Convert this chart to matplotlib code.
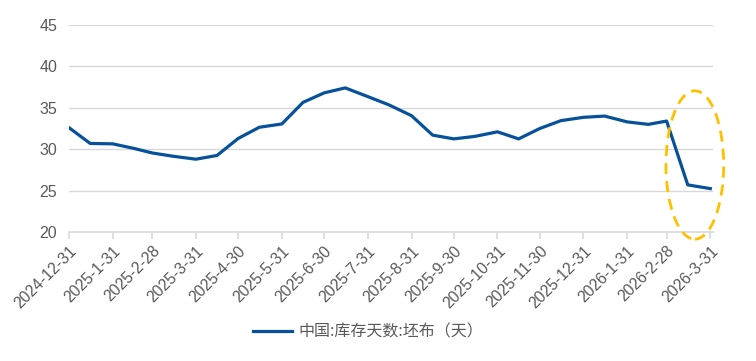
import numpy as np
import pandas as pd
import matplotlib.pyplot as plt
import matplotlib.dates as mdates
from matplotlib.patches import Ellipse

plt.rcParams['font.family'] = ['Liberation Sans', 'Noto Sans CJK SC', 'DejaVu Sans']

dates = pd.to_datetime([
    "2024-12-31", "2025-01-15", "2025-01-31", "2025-02-15", "2025-02-28",
    "2025-03-15", "2025-03-31", "2025-04-15", "2025-04-30", "2025-05-15",
    "2025-05-31", "2025-06-15", "2025-06-30", "2025-07-15", "2025-07-31",
    "2025-08-15", "2025-08-31", "2025-09-15", "2025-09-30", "2025-10-15",
    "2025-10-31", "2025-11-15", "2025-11-30", "2025-12-15", "2025-12-31",
    "2026-01-15", "2026-01-31", "2026-02-15", "2026-02-28", "2026-03-15",
    "2026-03-31",
])
days = [
    32.6, 30.7, 30.65, 30.1, 29.55,
    29.15, 28.8, 29.25, 31.3, 32.65,
    33.05, 35.65, 36.8, 37.4, 36.35,
    35.35, 34.05, 31.7, 31.25, 31.55,
    32.1, 31.25, 32.5, 33.45, 33.85,
    34.0, 33.3, 33.0, 33.4, 25.7,
    25.25,
]
tick_dates = pd.to_datetime([
    "2024-12-31", "2025-01-31", "2025-02-28", "2025-03-31", "2025-04-30",
    "2025-05-31", "2025-06-30", "2025-07-31", "2025-08-31", "2025-09-30",
    "2025-10-31", "2025-11-30", "2025-12-31", "2026-01-31", "2026-02-28",
    "2026-03-31",
])
tick_labels = [f"{d.year}-{d.month}-{d.day}" for d in tick_dates]
series_name = "中国:库存天数:坯布（天）"

fig = plt.figure(figsize=(7.56, 3.61), dpi=100)
ax = fig.add_axes([0.0913, 0.357, 0.852, 0.574])

ax.plot(dates, days, color="#06519A", lw=2.3, label=series_name, zorder=3)

ax.set_ylim(20, 45)
ax.set_yticks(np.arange(20, 46, 5))
ax.set_xlim(mdates.date2num(tick_dates[0]), mdates.date2num(tick_dates[-1]) + 2)
ax.set_xticks(tick_dates)
ax.set_xticklabels(tick_labels, rotation=45, ha="right", rotation_mode="anchor")

ax.grid(axis="y", color="#D9D9D9", lw=1)
ax.set_axisbelow(True)
for s in ["top", "right", "left"]:
    ax.spines[s].set_visible(False)
ax.spines["bottom"].set_color("#D9D9D9")
ax.spines["bottom"].set_linewidth(1.2)
ax.tick_params(axis="x", colors="#D9D9D9", length=5, width=1.2, labelcolor="#595959",
               labelsize=11.3, pad=3)
ax.tick_params(axis="y", length=0, labelcolor="#595959", labelsize=11.5, pad=8.5)

# highlight the last drop
xc = mdates.date2num(pd.Timestamp("2026-03-20"))
ell = Ellipse((xc, 28.1), width=41, height=17.9, fill=False, edgecolor="#FFC000",
              lw=2, ls=(0, (4, 2.5)), clip_on=False, zorder=4)
ax.add_patch(ell)

fig.legend(loc="center", bbox_to_anchor=(0.487, 0.08), frameon=False,
           handlelength=2.4, handletextpad=0.4, labelcolor="#595959",
           prop={'family': ['Noto Sans CJK SC', 'DejaVu Sans'], 'size': 11.5})

fig.savefig("out.png", dpi=100)
